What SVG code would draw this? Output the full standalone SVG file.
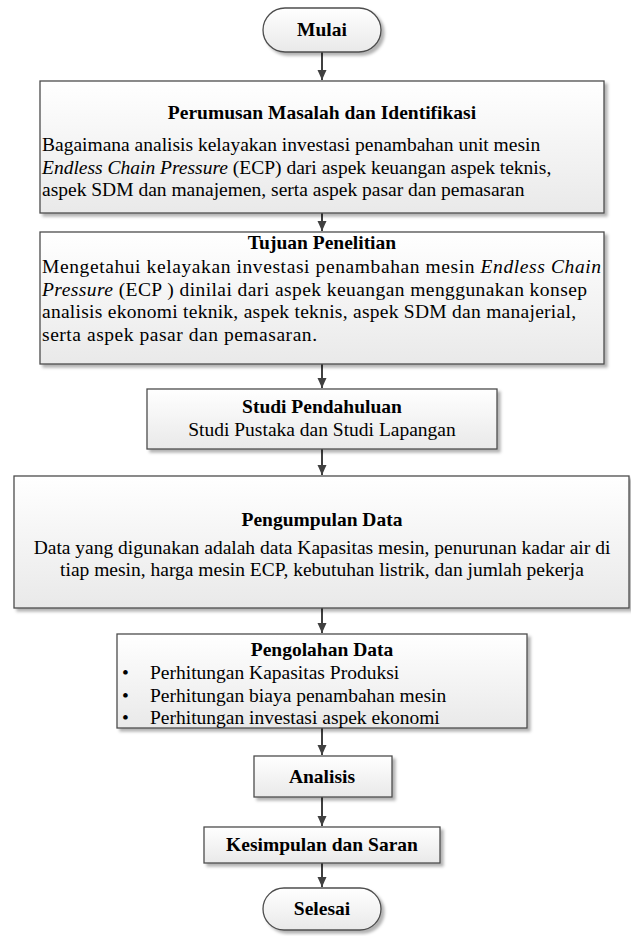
<svg xmlns="http://www.w3.org/2000/svg" width="631" height="936" viewBox="0 0 631 936">
<defs>
<linearGradient id="g" x1="0" y1="0" x2="0" y2="1">
<stop offset="0" stop-color="#ffffff"/>
<stop offset="1" stop-color="#e9e9e9"/>
</linearGradient>
<filter id="sh" x="-5%" y="-5%" width="115%" height="125%">
<feDropShadow dx="3" dy="3" stdDeviation="1.5" flood-color="#000" flood-opacity="0.3"/>
</filter>
<marker id="ah" markerWidth="12" markerHeight="12" refX="10" refY="6" orient="auto" markerUnits="userSpaceOnUse">
<path d="M0,1.5 L10,6 L0,10.5 Z" fill="#404040"/>
</marker>
</defs>
<style>
.box{fill:url(#g);stroke:#4d4d4d;stroke-width:1.3;filter:url(#sh)}
.t{font-family:"Liberation Serif","Times New Roman",serif;font-size:19.5px;fill:#000}
.b{font-weight:bold}
.c{text-anchor:middle}
.conn{stroke:#404040;stroke-width:2;fill:none;marker-end:url(#ah)}
</style>
<g id="connectors">
<line class="conn" x1="322" y1="52" x2="322" y2="80"/>
<line class="conn" x1="322" y1="213" x2="322" y2="231"/>
<line class="conn" x1="322" y1="364" x2="322" y2="388"/>
<line class="conn" x1="322" y1="449" x2="322" y2="475"/>
<line class="conn" x1="322" y1="608" x2="322" y2="633"/>
<line class="conn" x1="322" y1="728" x2="322" y2="755"/>
<line class="conn" x1="322" y1="797" x2="322" y2="826"/>
<line class="conn" x1="322" y1="863" x2="322" y2="887"/>
</g>
<g id="mulai">
<rect class="box" x="263" y="8" width="118" height="44" rx="22"/>
<text class="t b c" x="322" y="36">Mulai</text>
</g>
<g id="perumusan">
<rect class="box" x="40" y="81" width="564" height="132"/>
<text class="t b c" x="322" y="119">Perumusan Masalah dan Identifikasi</text>
<text class="t" x="42" y="151">Bagaimana analisis kelayakan investasi penambahan unit mesin</text>
<text class="t" x="42" y="174"><tspan font-style="italic">Endless Chain Pressure</tspan> (ECP) dari aspek keuangan aspek teknis,</text>
<text class="t" x="42" y="196">aspek SDM dan manajemen, serta aspek pasar dan pemasaran</text>
</g>
<g id="tujuan">
<rect class="box" x="40" y="232" width="564" height="132"/>
<text class="t b c" x="322" y="249">Tujuan Penelitian</text>
<text class="t" x="42" y="273" textLength="559" lengthAdjust="spacing">Mengetahui kelayakan investasi penambahan mesin <tspan font-style="italic">Endless Chain</tspan></text>
<text class="t" x="42" y="296" textLength="545" lengthAdjust="spacing"><tspan font-style="italic">Pressure</tspan> (ECP ) dinilai dari aspek keuangan menggunakan konsep</text>
<text class="t" x="42" y="318" textLength="534" lengthAdjust="spacing">analisis ekonomi teknik, aspek teknis, aspek SDM dan manajerial,</text>
<text class="t" x="42" y="341" textLength="275" lengthAdjust="spacing">serta aspek pasar dan pemasaran.</text>
</g>
<g id="studi">
<rect class="box" x="147" y="389" width="350" height="60"/>
<text class="t b c" x="322" y="413">Studi Pendahuluan</text>
<text class="t c" x="322" y="436">Studi Pustaka dan Studi Lapangan</text>
</g>
<g id="pengumpulan">
<rect class="box" x="14" y="476" width="615" height="132"/>
<text class="t b c" x="322" y="526">Pengumpulan Data</text>
<text class="t c" x="322" y="554">Data yang digunakan adalah data Kapasitas mesin, penurunan kadar air di</text>
<text class="t c" x="322" y="576">tiap mesin, harga mesin ECP, kebutuhan listrik, dan jumlah pekerja</text>
</g>
<g id="pengolahan">
<rect class="box" x="117" y="634" width="410" height="94"/>
<text class="t b c" x="322" y="656">Pengolahan Data</text>
<text class="t" x="122" y="679">•</text>
<text class="t" x="150" y="679">Perhitungan Kapasitas Produksi</text>
<text class="t" x="122" y="702">•</text>
<text class="t" x="150" y="702">Perhitungan biaya penambahan mesin</text>
<text class="t" x="122" y="724">•</text>
<text class="t" x="150" y="724">Perhitungan investasi aspek ekonomi</text>
</g>
<g id="analisis">
<rect class="box" x="254" y="756" width="138" height="41"/>
<text class="t b c" x="322" y="783">Analisis</text>
</g>
<g id="kesimpulan">
<rect class="box" x="204" y="827" width="236" height="36"/>
<text class="t b c" x="322" y="851">Kesimpulan dan Saran</text>
</g>
<g id="selesai">
<rect class="box" x="263" y="888" width="118" height="42" rx="21"/>
<text class="t b c" x="322" y="915">Selesai</text>
</g>
</svg>
